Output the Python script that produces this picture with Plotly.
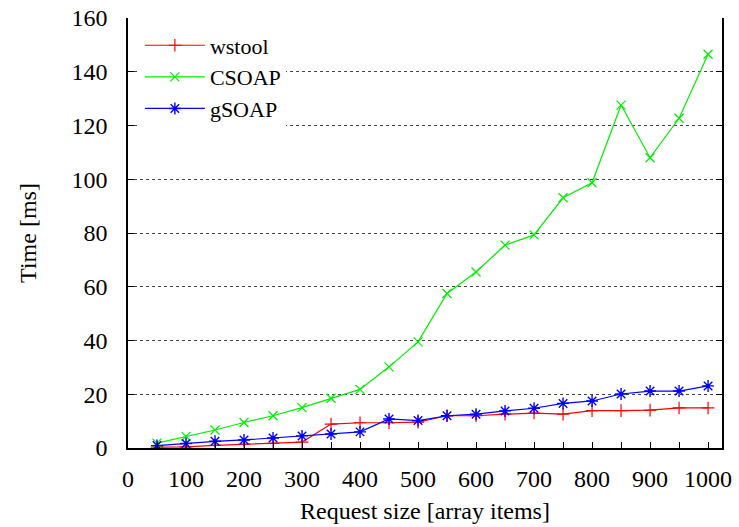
import plotly.graph_objects as go

sizes = [50, 100, 150, 200, 250, 300, 350, 400, 450, 500,
         550, 600, 650, 700, 750, 800, 850, 900, 950, 1000]
wstool = [0.3, 0.4, 1.0, 1.4, 1.7, 2.2, 8.9, 9.4, 9.4, 9.6,
          12.0, 12.0, 12.6, 13.0, 12.6, 13.9, 13.9, 14.1, 14.9, 14.9]
csoap = [1.8, 4.3, 6.7, 9.5, 12.0, 15.0, 18.5, 21.8, 30.2, 39.5,
         57.5, 65.5, 75.5, 79.3, 93.1, 98.7, 127.6, 108.0, 122.7, 146.5]
gsoap = [0.9, 1.7, 2.5, 3.0, 3.7, 4.5, 5.2, 6.0, 10.8, 10.2,
         12.0, 12.6, 13.8, 14.8, 16.6, 17.5, 20.1, 21.2, 21.2, 23.1]

x_ticks = [0, 100, 200, 300, 400, 500, 600, 700, 800, 900, 1000]
y_ticks = [0, 20, 40, 60, 80, 100, 120, 140, 160]

FONT = "Liberation Serif, Times New Roman, serif"
FS = 24

fig = go.Figure()
fig.add_trace(go.Scatter(x=sizes, y=wstool, name="wstool", mode="lines+markers",
                         line=dict(color="#ff0000", width=1.2),
                         marker=dict(symbol="cross-thin", size=9, line=dict(color="#ff0000", width=1.2))))
fig.add_trace(go.Scatter(x=sizes, y=csoap, name="CSOAP", mode="lines+markers",
                         line=dict(color="#00ee00", width=1.2),
                         marker=dict(symbol="x-thin", size=9, line=dict(color="#00ee00", width=1.2))))
fig.add_trace(go.Scatter(x=sizes, y=gsoap, name="gSOAP", mode="lines+markers",
                         line=dict(color="#0000ff", width=1.2),
                         marker=dict(symbol="asterisk-open", size=10, line=dict(color="#0000ff", width=1.4))))

fig.update_layout(
    width=739, height=527,
    margin=dict(l=128, r=17, t=18, b=79, autoexpand=False),
    paper_bgcolor="white", plot_bgcolor="white",
    font=dict(family=FONT, size=FS, color="black"),
    showlegend=True,
    legend=dict(x=0.02, y=0.985, xanchor="left", yanchor="top",
                bgcolor="white", borderwidth=0,
                font=dict(family=FONT, size=22), tracegroupgap=0,
                itemwidth=60),
)
fig.update_xaxes(
    range=[0, 1024], tickvals=x_ticks, ticktext=[str(v) for v in x_ticks],
    ticks="inside", ticklen=6, tickcolor="black", tickwidth=1,
    minor=dict(dtick=50, tick0=0, ticks="inside", ticklen=6, tickcolor="black", showgrid=False),
    showline=True, linecolor="black", linewidth=1.5, mirror=False,
    showgrid=False, zeroline=False, automargin=False,
    ticklabelstandoff=8,
    title=dict(text="Request size [array items]", standoff=12, font=dict(size=FS)),
    tickfont=dict(size=FS),
)
fig.update_yaxes(
    range=[0, 160], tickvals=y_ticks, ticktext=[str(v) for v in y_ticks],
    ticks="inside", ticklen=6, tickcolor="black", tickwidth=1,
    showline=True, linecolor="black", linewidth=1.5, mirror="ticks",
    showgrid=True, gridcolor="#444444", griddash="dot", gridwidth=1,
    zeroline=False, automargin=False,
    ticklabelstandoff=14,
    title=dict(text="Time [ms]", standoff=28, font=dict(size=FS)),
    tickfont=dict(size=FS),
)

fig.write_html("out.html")
